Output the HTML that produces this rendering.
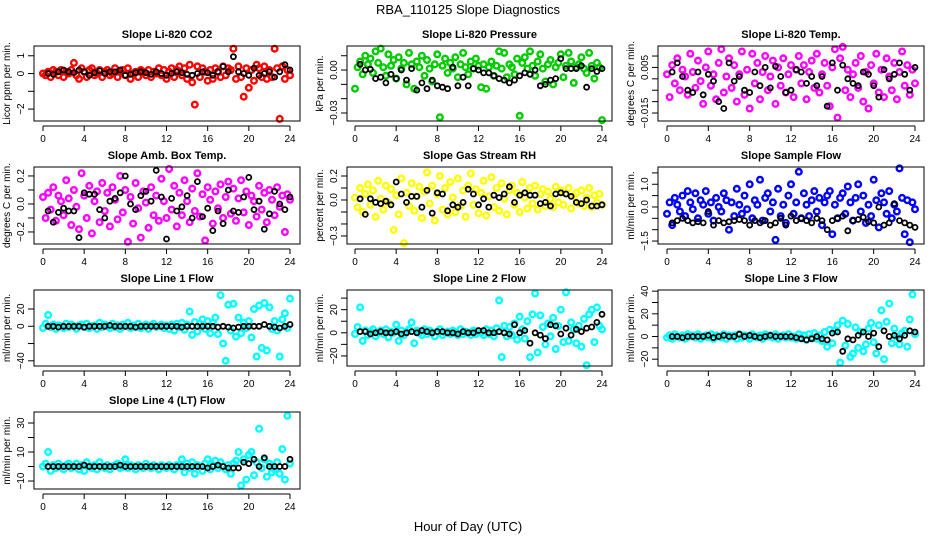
<!DOCTYPE html>
<html><head><meta charset="utf-8"><style>
html,body{margin:0;padding:0;background:#fff;}
svg{display:block;font-family:"Liberation Sans",sans-serif;}
</style></head><body>
<svg id="chart" width="936" height="540" viewBox="0 0 936 540" xmlns="http://www.w3.org/2000/svg">
<rect x="0" y="0" width="936" height="540" fill="#fff"/>
<text x="468" y="14" text-anchor="middle" font-size="13">RBA_110125  Slope Diagnostics</text>
<text x="468" y="531" text-anchor="middle" font-size="13">Hour of Day (UTC)</text>
<g id="panels"></g>
</svg>
<script>
const hoursC=[0,0.25,0.5,0.75,1,1.25,1.5,1.75,2,2.25,2.5,2.75,3,3.25,3.5,3.75,4,4.25,4.5,4.75,5,5.25,5.5,5.75,6,6.25,6.5,6.75,7,7.25,7.5,7.75,8,8.25,8.5,8.75,9,9.25,9.5,9.75,10,10.25,10.5,10.75,11,11.25,11.5,11.75,12,12.25,12.5,12.75,13,13.25,13.5,13.75,14,14.25,14.5,14.75,15,15.25,15.5,15.75,16,16.25,16.5,16.75,17,17.25,17.5,17.75,18,18.25,18.5,18.75,19,19.25,19.5,19.75,20,20.25,20.5,20.75,21,21.25,21.5,21.75,22,22.25,22.5,22.75,23,23.25,23.5,23.75,24];
const hoursK=[0.5,1,1.5,2,2.5,3,3.5,4,4.5,5,5.5,6,6.5,7,7.5,8,8.5,9,9.5,10,10.5,11,11.5,12,12.5,13,13.5,14,14.5,15,15.5,16,16.5,17,17.5,18,18.5,19,19.5,20,20.5,21,21.5,22,22.5,23,23.5,24];
const xTicks=[0,4,8,12,16,20,24];
const panelTitles=["Slope Li-820 CO2","Slope Li-820 Pressure","Slope Li-820 Temp.","Slope Amb. Box Temp.","Slope Gas Stream RH","Slope Sample Flow","Slope Line 1 Flow","Slope Line 2 Flow","Slope Line 3 Flow","Slope Line 4 (LT) Flow"];
const yTitles=["Licor ppm per min.","kPa per min.","degrees C per min.","degrees C per min.","percent per min.","ml/min per min.","ml/min per min.","ml/min per min.","ml/min per min.","ml/min per min."];
const seriesColors=["#ff0000","#00cc00","#ff00ff","#ff00ff","#ffff00","#0000ff","#00ffff","#00ffff","#00ffff","#00ffff"];
const yTicks=[[-2,-1,0,1],[-0.03,-0.02,-0.01,0,0.01],[-0.015,-0.01,-0.005,0,0.005,0.01],[-0.2,-0.1,0,0.1,0.2],[-0.3,-0.2,-0.1,0,0.1,0.2],[-1.5,-1,-0.5,0,0.5,1,1.5],[-40,-20,0,20],[-20,-10,0,10,20,30],[-20,-10,0,10,20,30,40],[-10,0,10,20,30]];
const yTickLabels=[["-2","","0","1"],["-0.03","","","0.00",""],["-0.015","","","","0.005",""],["-0.2","","0.0","","0.2"],["-0.3","","","0.0","","0.2"],["-1.5","","","0.0","","1.0",""],["-40","","0","20"],["-20","","0","","20",""],["-20","","0","","20","","40"],["-10","","10","","30"]];
const yRanges=[[-2.67,1.55],[-0.0356,0.0168],[-0.0185,0.0144],[-0.286,0.264],[-0.367,0.275],[-1.63,1.76],[-46,42],[-28.7,37],[-26,41],[-15.5,37.6]];

const co2C=[0,-0.1,0.1,-0.2,0.2,0.1,-0.1,0.2,-0.2,0.1,0,0.2,0.6,-0.1,-0.3,0.3,0.1,-0.2,0.2,0.3,-0.1,0,0.2,-0.2,0.1,0.2,-0.1,0,0.3,-0.2,0.1,0.2,-0.1,0.3,-0.3,0,0.1,-0.2,0.2,0.1,-0.1,0.2,-0.2,0.1,0,0.3,-0.1,0.2,-0.3,0.1,0.3,-0.2,0.2,0.4,-0.1,0.3,-0.3,0.5,-0.5,-1.75,0.4,-0.2,0.3,0.1,-0.4,0.2,-0.3,0.3,0.1,-0.2,0.4,-0.1,0.3,0.2,1.4,-0.3,0.4,-0.2,-1.3,0.3,-0.8,0.2,-0.4,0.5,0.3,-0.2,0.4,-0.3,0.2,-0.2,1.4,0.3,-2.55,0.4,-0.3,0.2,-0.1];
const co2K=[0,-0.05,0.1,0.2,0.1,0.05,0.2,0.1,-0.1,0.05,0.15,0,0.1,0.1,0.2,-0.1,-0.05,0.05,0.1,0.05,-0.05,0.1,0,-0.1,0,0.1,0.05,-0.05,-0.1,0,0.1,0.05,-0.1,0.1,0.4,0.1,0.95,0.1,0,-0.1,0.3,-0.1,0,0.1,-0.2,0.1,0.5,0.2];
const presC=[-0.013,0.002,0.006,-0.003,0.010,0.004,0.008,-0.002,0.013,0.005,0.015,0.002,-0.004,0.011,0.003,0.007,-0.006,0.009,0.001,0.005,-0.01,0.012,0.004,-0.013,0.006,0.002,0.01,-0.004,0.007,0.001,-0.008,0.004,0.011,-0.033,0.003,0.008,-0.002,0.005,0.001,0.009,-0.005,0.004,0.012,0.002,-0.003,0.006,0.001,0.008,0.003,-0.012,0.004,-0.013,0.002,0.006,-0.004,0.003,0.013,0.001,0.012,-0.005,0.004,0.002,-0.003,0.008,-0.032,0.005,0.009,0.001,0.013,0.003,-0.004,0.006,0.011,0.001,-0.008,0.004,0.007,-0.01,0.002,0.005,0.011,-0.005,0.003,0.012,0.006,-0.009,0.002,0.004,0.009,0.001,-0.002,0.012,0.003,-0.006,0.005,0.002,-0.035];
const presK=[0.004,0,0.0005,-0.006,-0.005,-0.009,-0.003,-0.006,0,-0.007,0.001,-0.014,-0.009,-0.013,-0.007,-0.011,-0.012,-0.013,0.002,-0.011,-0.005,-0.011,0.001,0,-0.002,-0.002,-0.004,-0.006,-0.007,-0.009,-0.007,-0.004,-0.002,-0.003,0,-0.011,-0.01,-0.007,-0.006,0.008,0.001,0.001,0.001,0.003,-0.012,0.001,-0.001,0.001];
const tempC=[0.002,-0.008,0.006,-0.002,0.009,-0.005,0.004,0.001,-0.007,0.011,0.003,-0.004,0.008,-0.001,-0.011,0.005,0.012,-0.003,0.002,-0.009,0.007,0.013,-0.006,0.001,0.009,-0.004,0.006,-0.01,0.002,0.012,-0.007,0.004,-0.013,0.011,-0.002,0.007,-0.009,0.003,0.01,-0.005,0.001,0.008,-0.011,0.005,-0.003,0.009,-0.006,0.002,0.006,-0.008,0.004,0.01,-0.002,0.006,-0.009,0.003,0.008,-0.004,0.011,-0.006,0.002,0.007,-0.003,-0.012,0.005,0.013,-0.017,0.009,0.014,-0.005,0.004,-0.008,0.002,0.007,-0.004,0.01,-0.01,0.003,-0.013,0.006,-0.002,0.011,-0.006,0.004,-0.008,0.009,0.001,-0.005,0.007,-0.009,0.003,0.012,-0.003,0.006,-0.007,0.004,-0.002];
const tempK=[0.003,0.007,0.001,-0.005,-0.006,0.003,-0.007,0.002,-0.001,-0.01,-0.013,0.007,-0.001,0.001,-0.005,-0.006,0.003,-0.003,0.005,-0.004,0.0055,0.001,-0.006,-0.005,0.004,0.003,-0.002,0.001,-0.003,0.001,-0.012,0.007,-0.005,0.006,0,-0.002,-0.003,0.003,0.002,-0.003,-0.008,0.004,0,0.002,0.007,0.002,-0.005,0.005];
const boxC=[0.05,-0.1,0.08,-0.04,0.12,-0.12,0.06,0.02,-0.08,0.17,0.04,-0.15,0.1,-0.02,-0.18,0.22,0.06,-0.1,0.13,-0.21,0.02,0.09,-0.13,0.15,-0.05,0.08,-0.16,0.12,0.03,-0.11,0.2,-0.06,0.1,-0.27,0.05,-0.14,0.15,-0.03,-0.24,0.09,0.01,-0.17,0.12,-0.08,0.06,-0.12,0.18,0.02,-0.1,0.25,-0.04,0.13,-0.16,0.08,-0.08,0.17,0.02,-0.13,0.11,-0.05,0.22,-0.09,0.07,-0.26,0.12,0.03,-0.14,0.09,-0.03,0.14,-0.1,0.05,0.16,-0.07,0.11,-0.12,0.04,0.17,-0.06,0.09,-0.15,0.06,0.02,-0.09,0.13,-0.04,0.08,-0.13,0.1,0.03,-0.08,0.12,-0.02,0.06,-0.2,0.07,0.03];
const boxK=[-0.05,-0.13,-0.06,-0.03,-0.05,-0.05,-0.24,0.08,0.07,0.07,-0.04,-0.1,0.02,0.04,0.08,0.2,0,-0.04,0.06,0.09,0.02,0.24,0.05,-0.25,0.04,-0.05,-0.02,0.06,-0.1,0.16,-0.09,-0.03,-0.19,-0.05,-0.14,0.1,-0.05,-0.06,0.05,0.19,-0.04,0.02,-0.18,-0.07,0.09,0,-0.04,0.05];
const rhC=[0.02,-0.06,0.1,-0.1,0.05,0.13,-0.04,0.08,-0.14,0.16,0.01,-0.08,0.12,-0.02,0.09,-0.25,0.04,-0.12,0.18,-0.36,0.06,-0.05,0.14,-0.09,0.03,0.11,-0.15,0.07,0.23,-0.03,0.12,-0.17,0.05,0.2,-0.08,0.1,-0.12,0.15,0.02,-0.1,0.18,-0.05,0.08,-0.14,0.12,0.22,-0.04,0.09,-0.11,0.06,0.16,-0.13,0.03,0.19,-0.06,0.1,-0.09,0.14,0.01,-0.12,0.08,0.12,-0.04,0.06,-0.1,0.15,0.02,-0.07,0.1,-0.03,0.12,-0.08,0.05,0.09,-0.05,0.07,0.01,-0.06,0.11,-0.02,0.08,-0.04,0.05,0.1,-0.07,0.03,0.06,-0.03,0.08,-0.05,0.02,0.1,-0.06,0.04,-0.02,0.05,-0.04];
const rhK=[0.01,-0.12,0.01,-0.02,-0.03,-0.01,-0.04,0.15,0.05,-0.02,0.03,0.03,-0.06,0.08,-0.11,0.06,0.05,-0.09,-0.04,-0.06,-0.02,0.09,0.05,-0.04,0.01,-0.06,0.04,0.02,0.05,0.11,-0.02,0.04,0.06,0.04,0.04,-0.03,-0.02,-0.05,0.05,0.06,0.05,0.03,-0.02,-0.03,0,-0.05,-0.05,-0.04];
const flowC=[-0.3,0.2,-0.8,0.4,0.1,-0.2,0.5,-0.4,0.7,0.2,-0.1,0.6,-0.5,0.3,0.1,0.7,-0.3,0.2,-0.6,0.4,0,-0.2,0.6,0.3,-1.0,0.2,-0.4,0.8,0.1,-0.3,0.5,-0.1,1.0,-0.5,0.3,0.1,1.2,-0.6,0.4,0.6,-0.2,0.2,-1.45,0.8,-0.4,0.1,-0.7,0.5,1.0,-0.3,0.2,1.55,-0.5,0.6,0.1,-0.4,0.3,0.7,-0.2,0.4,-0.8,0.2,0.5,0.7,-1.2,0.1,-0.5,0.4,0.6,-0.3,0.9,0.2,-0.6,0.4,1.0,-0.2,0.5,-0.7,0.1,-0.4,1.2,0.3,-0.9,0.6,0.2,-0.3,0.7,-0.5,0.1,-0.2,1.7,0.4,-1.2,0.3,-1.55,0.2,-0.1];
const flowK=[-0.7,-0.6,-0.5,-0.6,-0.7,-0.65,-0.7,-0.2,-0.8,-0.6,-0.7,-0.65,-0.6,-0.55,-0.6,-0.8,-0.6,-0.7,-0.6,-0.8,-0.7,-0.5,-0.8,-0.4,-0.6,-0.5,-0.6,-0.7,-0.5,-0.6,-1.0,-0.6,-0.5,-0.4,-1.05,-0.6,-0.55,-0.45,-0.65,-0.7,0.0,-0.8,-0.7,0.15,-0.6,-0.7,-0.8,-0.9];
const line1C=[-2,3,13,-1,2,-3,1,0,-2,3,-1,2,0,-3,1,2,-1,3,-2,0,1,-3,4,-1,2,0,-2,3,-1,1,-3,2,0,4,-2,1,-1,3,-2,0,2,-3,1,3,-1,0,2,-2,1,-3,2,-5,3,-1,4,-4,2,17,-10,5,-6,3,8,-3,6,-8,4,10,-9,36,-20,-40,25,-5,26,-12,10,-8,4,-2,6,-13,20,-35,24,-25,27,-28,22,-3,6,-5,-35,8,15,-2,32];
const line1K=[0,0,-1,0,0,0,0,-1,0,0,0,0,1,0,0,0,0,-1,0,0,0,0,0,0,0,0,-1,0,0,0,0,0,0,-1,0,-1,-2,-1,0,0,0,0,2,0,-1,-2,0,2];
const line2C=[-1,5,22,-7,2,-2,1,3,-3,0,2,-1,3,-4,1,0,7,-7,2,-2,1,3,9,-9,2,0,-2,3,-1,2,0,-3,1,3,-2,0,1,-1,2,0,-2,3,-1,1,0,-2,2,-1,1,0,-2,3,-1,2,-3,4,28,-21,6,-3,5,-2,8,-6,14,3,-5,10,-21,16,34,-17,15,5,-10,8,-3,13,-14,6,20,-8,35,-7,9,3,-9,6,-12,12,-28,16,20,-8,22,6,3];
const line2K=[1,1,-1,0,1,0,0,1,-1,0,1,0,2,1,0,1,1,0,0,-1,1,0,0,2,2,0,0,1,0,-1,7,0,2,-9,0,-2,-5,7,6,-1,4,-2,3,1,4,5,9,16];
const line3C=[-1,1,-2,2,0,-1,1,-2,2,0,1,-1,2,-2,0,1,-1,2,-2,1,0,-1,2,-2,1,0,1,-2,2,-1,1,0,-2,2,0,-1,1,-2,2,0,1,-1,2,-2,0,1,-1,2,-1,0,-2,2,-1,1,-3,2,-1,3,-2,1,-4,4,-9,6,-6,5,10,-23,14,-8,11,-18,-15,8,-10,4,-13,-7,7,12,-5,-15,10,23,-20,13,29,-6,7,0,-7,3,5,-9,15,37,2];
const line3K=[0,0,-1,0,0,0,0,1,-1,0,1,0,0,2,0,1,0,-1,0,1,0,0,0,0,-1,-2,-3,-2,0,-2,-3,3,4,-13,-2,-3,1,4,0,3,-9,5,0,1,-2,1,5,4];
const line4C=[0,2,10,-3,1,-1,2,0,-2,1,2,-1,0,2,-2,1,-3,3,0,-1,1,-2,3,0,-1,1,-2,0,1,2,-1,0,5,-1,1,0,-2,1,0,-1,2,0,-1,1,0,-2,1,0,-1,1,0,-2,1,0,5,-4,2,-1,3,-5,1,0,-3,2,5,-2,1,4,-1,3,0,-2,1,-5,2,4,10,-13,5,-9,8,10,-6,3,26,-1,5,-7,2,-4,-2,3,-5,12,-9,35,2];
const line4K=[0,0,0,0,0,0,0,1,0,0,0,0,0,0,1,0,0,0,0,0,0,0,0,0,0,0,0,0,0,0,0,-1,0,1,0,-1,-1,-1,3,2,5,0,6,0,0,0,0,5];

const colorSeries=[co2C,presC,tempC,boxC,rhC,flowC,line1C,line2C,line3C,line4C];
const blackSeries=[co2K,presK,tempK,boxK,rhK,flowK,line1K,line2K,line3K,line4K];
const panelNames=["co2","pressure","li820-temp","box-temp","rh","sample-flow","line1-flow","line2-flow","line3-flow","line4-flow"];

const NS="http://www.w3.org/2000/svg";
const colBox=[[34,300],[347,612],[658,924]];
const colX=[[43,290],[355,602],[667,915]];
const rowBox=[[46,121],[167,244],[290,366],[412,489]];
const root=document.getElementById('panels');
function mk(tag,attrs,parent){const e=document.createElementNS(NS,tag);for(const k in attrs)e.setAttribute(k,attrs[k]);parent.appendChild(e);return e;}

for(let p=0;p<10;p++){
  const c=p%3,r=Math.floor(p/3);
  const [bl,br]=colBox[c],[bt,bb]=rowBox[r];
  const [x0,x24]=colX[c];
  const [ymin,ymax]=yRanges[p];
  const xs=h=>x0+(x24-x0)*h/24;
  const ys=v=>bb-(v-ymin)/(ymax-ymin)*(bb-bt);
  const g=mk('g',{},root);
  
  
  const t=mk('text',{x:(bl+br)/2,y:bt-8,'text-anchor':'middle','font-size':'11','font-weight':'bold'},g);
  t.textContent=panelTitles[p];
  
  
  const pc=mk('g',{fill:'none',stroke:seriesColors[p],'stroke-width':'2.4'},g);
  
  
  colorSeries[p].forEach((v,i)=>{
    const ci=mk('circle',{cx:xs(hoursC[i]).toFixed(1),cy:ys(v).toFixed(1),r:'2.8'},pc);
    
    
  });
  const pk=mk('g',{fill:'none',stroke:'#000','stroke-width':'1.8'},g);
  
  
  blackSeries[p].forEach((v,i)=>{
    const ci=mk('circle',{cx:xs(hoursK[i]).toFixed(1),cy:ys(v).toFixed(1),r:'2.5'},pk);
    
    
  });
  const bx=mk('rect',{x:bl,y:bt,width:br-bl,height:bb-bt,fill:'none',stroke:'#000','stroke-width':'1'},g);
  
  
  const xa=mk('g',{},g);
  
  
  mk('line',{x1:xs(0),x2:xs(24),y1:bb+5,y2:bb+5,stroke:'#000'},xa);
  xTicks.forEach(h=>{
    mk('line',{x1:xs(h),x2:xs(h),y1:bb+5,y2:bb+10,stroke:'#000'},xa);
    const tl=mk('text',{x:xs(h),y:bb+21,'text-anchor':'middle','font-size':'10'},xa);
    tl.textContent=String(h);
    
    
  });
  const ya=mk('g',{},g);
  
  
  const tks=yTicks[p];
  mk('line',{x1:bl,x2:bl,y1:ys(tks[0]),y2:ys(tks[tks.length-1]),stroke:'#000'},ya);
  tks.forEach((v,i)=>{
    const y=ys(v);
    mk('line',{x1:bl-6,x2:bl,y1:y,y2:y,stroke:'#000'},ya);
    if(yTickLabels[p][i]){
      const tl=mk('text',{x:bl-10,y:y,'text-anchor':'middle','font-size':'10',transform:`rotate(-90 ${bl-10} ${y})`},ya);
      tl.textContent=yTickLabels[p][i].replace('-','\u2212');
      
      
    }
  });
  const yt=mk('text',{x:bl-24,y:(bt+bb)/2,'text-anchor':'middle','font-size':'10',transform:`rotate(-90 ${bl-24} ${(bt+bb)/2})`},g);
  yt.textContent=yTitles[p];
  
  
}
</script>
</body></html>
